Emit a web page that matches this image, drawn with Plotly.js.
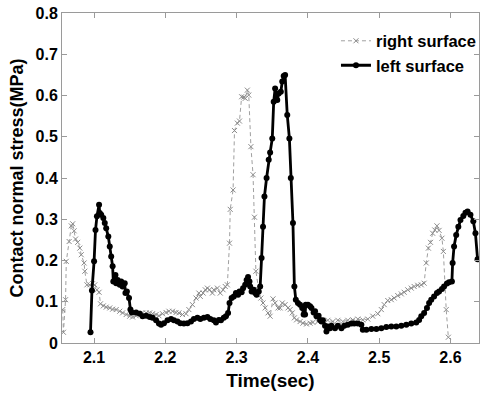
<!DOCTYPE html>
<html>
<head>
<meta charset="utf-8">
<script src="https://cdn.plot.ly/plotly-3.0.1.min.js"></script>
<style>html,body{margin:0;padding:0;background:#fff;}#chart{width:482px;height:394px;}</style>
</head>
<body>
<div id="chart"></div>
<script>
// Right surface (grey, x markers, dashed)
var rightTime = [2.056,2.057,2.060,2.061,2.065,2.068,2.070,2.072,2.074,2.077,2.080,2.082,2.086,2.087,2.090,2.094,2.098,2.101,2.104,2.107,2.109,2.113,2.117,2.122,2.126,2.131,2.136,2.140,2.145,2.150,2.154,2.159,2.164,2.168,2.173,2.178,2.182,2.187,2.191,2.196,2.201,2.205,2.210,2.215,2.219,2.224,2.229,2.233,2.238,2.243,2.247,2.249,2.253,2.256,2.259,2.262,2.266,2.268,2.273,2.277,2.281,2.284,2.287,2.290,2.291,2.295,2.297,2.301,2.304,2.307,2.310,2.312,2.315,2.317,2.320,2.323,2.325,2.327,2.331,2.334,2.337,2.340,2.344,2.347,2.351,2.354,2.358,2.361,2.364,2.368,2.372,2.375,2.378,2.381,2.384,2.389,2.393,2.398,2.403,2.407,2.414,2.421,2.428,2.435,2.442,2.449,2.456,2.463,2.470,2.477,2.484,2.491,2.498,2.503,2.507,2.512,2.517,2.521,2.526,2.531,2.535,2.540,2.545,2.549,2.554,2.559,2.563,2.566,2.569,2.572,2.575,2.578,2.581,2.584,2.588,2.590,2.594,2.597];
var rightStress = [0.081,0.026,0.105,0.198,0.246,0.284,0.289,0.272,0.252,0.244,0.230,0.214,0.194,0.174,0.141,0.141,0.144,0.141,0.129,0.123,0.095,0.090,0.087,0.085,0.082,0.081,0.077,0.073,0.069,0.065,0.063,0.066,0.071,0.073,0.073,0.073,0.071,0.069,0.066,0.071,0.074,0.077,0.077,0.074,0.073,0.069,0.071,0.081,0.093,0.109,0.121,0.113,0.121,0.129,0.133,0.129,0.121,0.129,0.133,0.121,0.129,0.137,0.141,0.242,0.324,0.371,0.515,0.533,0.538,0.597,0.596,0.593,0.613,0.601,0.476,0.408,0.305,0.174,0.129,0.109,0.097,0.085,0.073,0.065,0.107,0.097,0.085,0.085,0.097,0.093,0.085,0.081,0.073,0.061,0.056,0.052,0.048,0.046,0.048,0.050,0.052,0.055,0.055,0.052,0.055,0.052,0.055,0.056,0.058,0.056,0.058,0.065,0.071,0.081,0.093,0.103,0.105,0.109,0.115,0.119,0.123,0.129,0.133,0.137,0.140,0.141,0.145,0.194,0.230,0.244,0.266,0.274,0.284,0.273,0.254,0.222,0.081,0.014];

// Left surface (black, dot markers, solid)
var leftTime = [2.095,2.097,2.100,2.102,2.104,2.107,2.108,2.110,2.113,2.115,2.117,2.120,2.122,2.124,2.126,2.127,2.130,2.131,2.133,2.136,2.138,2.140,2.143,2.144,2.146,2.149,2.151,2.153,2.159,2.164,2.168,2.173,2.178,2.182,2.187,2.191,2.194,2.198,2.203,2.208,2.212,2.217,2.221,2.226,2.231,2.236,2.240,2.245,2.249,2.254,2.259,2.263,2.268,2.271,2.275,2.278,2.282,2.285,2.288,2.290,2.293,2.296,2.299,2.302,2.304,2.307,2.309,2.312,2.314,2.316,2.318,2.319,2.321,2.324,2.326,2.328,2.331,2.333,2.335,2.337,2.339,2.342,2.345,2.347,2.350,2.352,2.354,2.357,2.359,2.362,2.364,2.366,2.368,2.371,2.374,2.376,2.379,2.381,2.383,2.386,2.389,2.392,2.394,2.396,2.397,2.400,2.403,2.405,2.408,2.410,2.412,2.415,2.417,2.419,2.421,2.424,2.426,2.428,2.431,2.433,2.438,2.442,2.447,2.451,2.456,2.461,2.465,2.470,2.475,2.477,2.482,2.489,2.496,2.503,2.510,2.517,2.524,2.531,2.538,2.545,2.552,2.556,2.559,2.563,2.567,2.570,2.573,2.577,2.581,2.584,2.588,2.591,2.595,2.598,2.602,2.603,2.605,2.608,2.611,2.614,2.618,2.621,2.624,2.628,2.632,2.635,2.638];
var leftStress = [0.026,0.127,0.198,0.274,0.307,0.335,0.315,0.311,0.303,0.291,0.278,0.258,0.234,0.210,0.186,0.149,0.165,0.145,0.153,0.141,0.149,0.137,0.145,0.121,0.125,0.109,0.081,0.074,0.074,0.071,0.065,0.066,0.063,0.061,0.055,0.047,0.044,0.048,0.055,0.058,0.055,0.052,0.048,0.047,0.048,0.052,0.058,0.061,0.058,0.061,0.063,0.058,0.055,0.050,0.056,0.055,0.061,0.065,0.073,0.097,0.109,0.113,0.121,0.117,0.125,0.123,0.133,0.141,0.153,0.160,0.149,0.137,0.125,0.129,0.121,0.117,0.125,0.137,0.206,0.282,0.355,0.400,0.444,0.462,0.496,0.585,0.617,0.589,0.605,0.609,0.634,0.647,0.650,0.553,0.496,0.400,0.291,0.137,0.105,0.097,0.093,0.085,0.069,0.069,0.093,0.093,0.089,0.085,0.074,0.077,0.065,0.066,0.056,0.052,0.055,0.042,0.028,0.040,0.036,0.042,0.036,0.042,0.036,0.042,0.044,0.047,0.047,0.047,0.044,0.032,0.032,0.034,0.034,0.036,0.039,0.040,0.040,0.042,0.044,0.047,0.050,0.056,0.065,0.073,0.085,0.097,0.105,0.113,0.121,0.125,0.131,0.137,0.144,0.147,0.149,0.194,0.234,0.262,0.282,0.298,0.308,0.316,0.319,0.311,0.295,0.266,0.203];

var xTickVals = [2.1, 2.2, 2.3, 2.4, 2.5, 2.6];
var xTickText = ['2.1', '2.2', '2.3', '2.4', '2.5', '2.6'];
var yTickVals = [0, 0.1, 0.2, 0.3, 0.4, 0.5, 0.6, 0.7, 0.8];
var yTickText = ['0', '0.1', '0.2', '0.3', '0.4', '0.5', '0.6', '0.7', '0.8'];

var FONT = 'Liberation Sans, Arial, sans-serif';

var traces = [
  {
    x: rightTime, y: rightStress, name: 'right surface', type: 'scatter', mode: 'lines+markers',
    line: {color: '#a0a0a0', width: 1, dash: '4px,3px'},
    marker: {symbol: 'x-thin', size: 5, line: {color: '#8a8a8a', width: 1}, color: '#8a8a8a'}
  },
  {
    x: leftTime, y: leftStress, name: 'left surface', type: 'scatter', mode: 'lines+markers',
    line: {color: '#000000', width: 2.8},
    marker: {symbol: 'circle', size: 6, color: '#000000'}
  }
];

var layout = {
  width: 482, height: 394,
  margin: {l: 62, r: 1, t: 13, b: 51},
  paper_bgcolor: '#ffffff', plot_bgcolor: '#ffffff',
  font: {family: FONT, color: '#000', size: 16},
  showlegend: true,
  legend: {
    x: 0.657, y: 0.968, xanchor: 'left', yanchor: 'top',
    bgcolor: 'rgba(0,0,0,0)', borderwidth: 0, itemwidth: 30,
    font: {family: FONT, size: 16.5, color: '#000', weight: 'bold'},
    tracegroupgap: 0
  },
  xaxis: {
    range: [2.055, 2.64], tickmode: 'array', tickvals: xTickVals, ticktext: xTickText,
    showgrid: false, zeroline: false, showline: true, linecolor: '#9a9a9a', linewidth: 1,
    mirror: 'ticks', ticks: 'inside', ticklen: 5, tickcolor: '#9a9a9a', tickwidth: 1,
    tickfont: {family: FONT, size: 16, color: '#000', weight: 'bold'},
    title: {text: 'Time(sec)', font: {family: FONT, size: 19, color: '#000', weight: 'bold'}, standoff: 8}
  },
  yaxis: {
    range: [0, 0.8], tickmode: 'array', tickvals: yTickVals, ticktext: yTickText,
    showgrid: false, zeroline: false, showline: true, linecolor: '#9a9a9a', linewidth: 1,
    mirror: 'ticks', ticks: 'inside', ticklen: 5, tickcolor: '#9a9a9a', tickwidth: 1,
    tickfont: {family: FONT, size: 16, color: '#000', weight: 'bold'},
    title: {text: 'Contact normal stress(MPa)', font: {family: FONT, size: 18, color: '#000', weight: 'bold'}, standoff: 7}
  }
};

Plotly.newPlot('chart', traces, layout, {displayModeBar: false, staticPlot: true});
</script>
</body>
</html>
